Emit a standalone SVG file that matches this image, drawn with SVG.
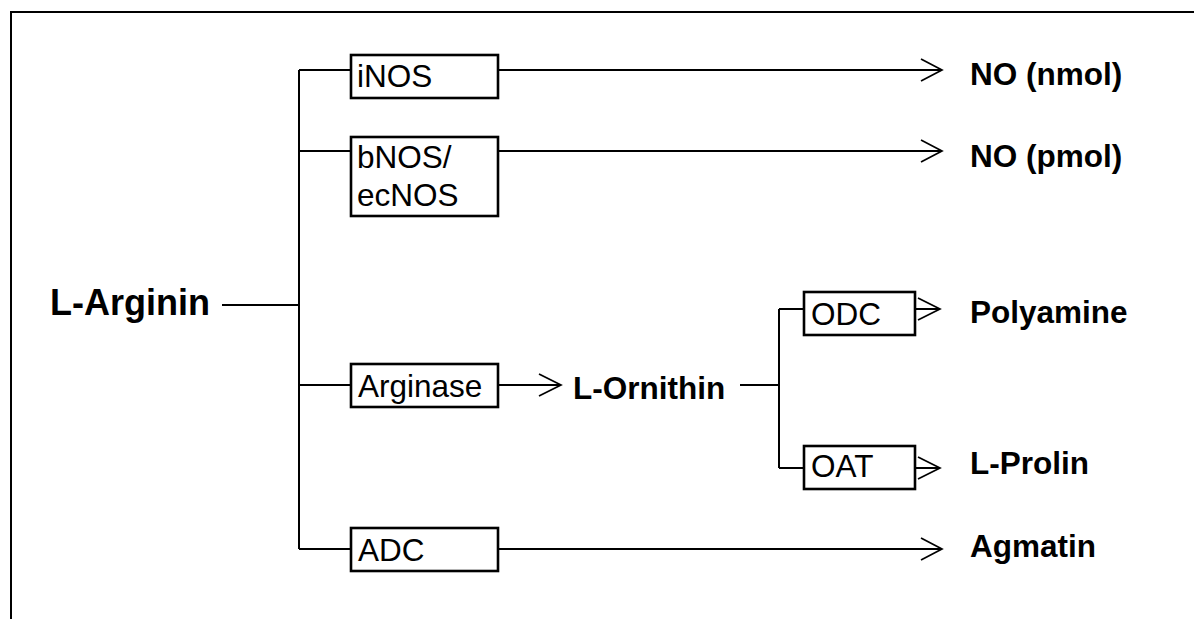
<svg xmlns="http://www.w3.org/2000/svg" width="1194" height="619" viewBox="0 0 1194 619">
<style>
.box{fill:#fff;stroke:#000;stroke-width:2.6}
.ln{fill:none;stroke:#000;stroke-width:2}
.ah{fill:none;stroke:#000;stroke-width:1.7}
.t{font-family:"Liberation Sans",Arial,sans-serif;font-size:31.5px;fill:#000}
.b{font-family:"Liberation Sans",Arial,sans-serif;font-size:31.5px;font-weight:bold;fill:#000}
</style>
<rect width="1194" height="619" fill="#fff"/>
<path class="ln" d="M11,619 V12 H1194"/>
<g id="connectors">
<path class="ln" d="M222,305 H299 M299,70 V549 M299,70 H351 M299,151 H351 M299,385 H351 M299,549 H351"/>
<path class="ln" d="M498,70 H942 M498,151 H942 M498,549 H942 M498,385 H561"/>
<path class="ah" d="M921,59 L942,70 L921,81 M921,140 L942,151 L921,162 M921,538 L942,549 L921,560 M539,374 L561,385 L539,396"/>
<path class="ln" d="M740,385 H779 M779,309 V468 M779,309 H804 M779,468 H804"/>
<path class="ln" d="M915,309 H940 M915,468 H940"/>
<path class="ah" d="M918,298 L940,309 L918,320 M918,457 L940,468 L918,479"/>
</g>
<g id="L-Arginin"><text class="b" x="50" y="315" style="font-size:36px">L-Arginin</text></g>
<g id="iNOS"><rect class="box" x="351" y="55" width="147" height="43"/><text class="t" x="357" y="87">iNOS</text></g>
<g id="bNOS"><rect class="box" x="351" y="137" width="147" height="79"/><text class="t" x="357" y="168">bNOS/</text><text class="t" x="357" y="205.5">ecNOS</text></g>
<g id="Arginase"><rect class="box" x="351" y="364" width="147" height="43"/><text class="t" x="358" y="397">Arginase</text></g>
<g id="ADC"><rect class="box" x="351" y="528" width="147" height="43"/><text class="t" x="358" y="560.5">ADC</text></g>
<g id="L-Ornithin"><text class="b" x="573" y="399">L-Ornithin</text></g>
<g id="ODC"><rect class="box" x="804" y="292" width="111" height="43"/><text class="t" x="811" y="325">ODC</text></g>
<g id="OAT"><rect class="box" x="804" y="446" width="111" height="43"/><text class="t" x="811" y="477">OAT</text></g>
<g id="NOn"><text class="b" x="970" y="85">NO (nmol)</text></g>
<g id="NOp"><text class="b" x="970" y="166.5">NO (pmol)</text></g>
<g id="Polyamine"><text class="b" x="970" y="323">Polyamine</text></g>
<g id="L-Prolin"><text class="b" x="970" y="474">L-Prolin</text></g>
<g id="Agmatin"><text class="b" x="970" y="556.5">Agmatin</text></g>
</svg>
